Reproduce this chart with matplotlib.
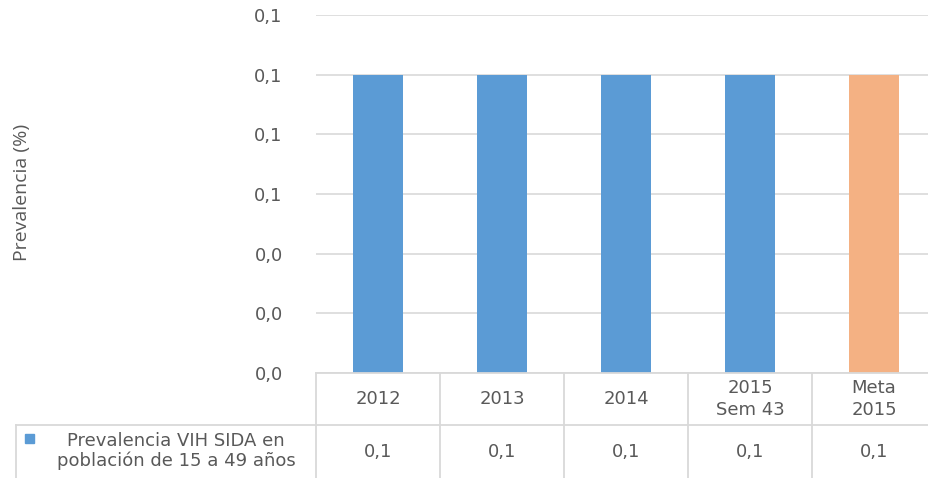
import matplotlib
matplotlib.use("Agg")
import matplotlib.pyplot as plt
from matplotlib.lines import Line2D
from matplotlib.patches import Rectangle

categories = ["2012", "2013", "2014", "2015\nSem 43", "Meta\n2015"]
values = [0.1, 0.1, 0.1, 0.1, 0.1]
value_labels = ["0,1", "0,1", "0,1", "0,1", "0,1"]
series_name = "Prevalencia VIH SIDA en\npoblación de 15 a 49 años"
yticks = [0.0, 0.02, 0.04, 0.06, 0.08, 0.10, 0.12]
ylabel = "Prevalencia (%)"

bar_colors = ["#5B9BD5", "#5B9BD5", "#5B9BD5", "#5B9BD5", "#F4B183"]
txt = "#595959"
grid = "#D9D9D9"
font = ["DejaVu Sans"]
fs = 13

W, H = 929, 478
fig = plt.figure(figsize=(W / 100, H / 100), dpi=100)

def fx(px):
    return px / W

def fy(py):
    return 1 - py / H

left_px, right_px, top_px, bot_px = 316, 936, 15, 373
ax = fig.add_axes([fx(left_px), fy(bot_px), fx(right_px - left_px), (bot_px - top_px) / H])
x = list(range(len(categories)))
ax.bar(x, values, width=0.40, color=bar_colors, zorder=3)
ax.set_xlim(-0.5, len(categories) - 0.5)
ax.set_ylim(0, 0.12)
ax.set_yticks(yticks)
ax.set_yticklabels([f"{v:.1f}".replace(".", ",") for v in yticks],
                   fontsize=fs, color=txt, family=font)
ax.tick_params(axis="y", length=0, pad=24)
ax.set_xticks([])
ax.yaxis.grid(True, color=grid, lw=1.2, zorder=0)
for s in ax.spines.values():
    s.set_visible(False)

# y label
fig.text(fx(22), fy(192), ylabel, rotation=90, ha="center", va="center",
         fontsize=14, color=txt, family=["Open Sans", "DejaVu Sans"])

# data table
col_edges = [316, 440, 564, 688, 812, 936]
row_top, row_mid, row_bot = 373, 425, 482
lines = []
lines.append(([fx(316), fx(936)], [fy(row_top), fy(row_top)]))
lines.append(([fx(16), fx(936)], [fy(row_mid), fy(row_mid)]))
lines.append(([fx(16), fx(16)], [fy(row_mid), fy(row_bot)]))
for ce in col_edges[:-1]:
    lines.append(([fx(ce), fx(ce)], [fy(row_top), fy(row_bot)]))
for xs, ys in lines:
    fig.add_artist(Line2D(xs, ys, color=grid, lw=1.3, transform=fig.transFigure))

for i, cat in enumerate(categories):
    cx = (col_edges[i] + col_edges[i + 1]) / 2
    fig.text(fx(cx), fy(399), cat, ha="center", va="center", fontsize=fs,
             color=txt, family=font, linespacing=1.25)
    fig.text(fx(cx), fy(452), value_labels[i], ha="center", va="center",
             fontsize=fs, color=txt, family=font)

fig.add_artist(Rectangle((fx(25), fy(443)), 9 / W, 9 / H, color=bar_colors[0],
                         transform=fig.transFigure))
fig.text(fx(176), fy(451), series_name, ha="center", va="center", fontsize=fs,
         color=txt, family=font, linespacing=1.15)

fig.savefig("out.png", dpi=100)
